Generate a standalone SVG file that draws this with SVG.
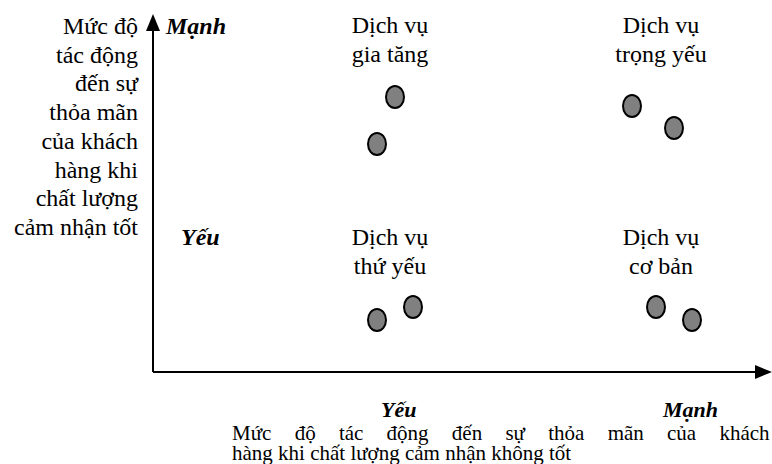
<svg xmlns="http://www.w3.org/2000/svg" width="772" height="464" viewBox="0 0 772 464">
<style>
text{font-family:'Liberation Serif','Times New Roman',serif;font-size:24px;fill:#000}
.c{text-anchor:middle}
.r{text-anchor:end}
.b{font-weight:bold;font-style:italic}
.s{font-size:21px}
.dot{fill:#808080;stroke:#000;stroke-width:2}
.ax{stroke:#000;stroke-width:2;fill:none}
</style>
<rect width="772" height="464" fill="#fff"/>
<g id="connectors">
<path class="ax" d="M153,372 L153,28"/>
<polygon points="153,14 146,31 160,31" fill="#000"/>
<path class="ax" d="M153,372 L756,372"/>
<polygon points="772,372 755,365 755,379" fill="#000"/>
</g>
<g id="y-axis-label">
<text class="r" x="138" y="34">Mức độ</text>
<text class="r" x="138" y="62.7">tác động</text>
<text class="r" x="138" y="91.4">đến sự</text>
<text class="r" x="138" y="120.1">thỏa mãn</text>
<text class="r" x="138" y="148.8">của khách</text>
<text class="r" x="138" y="177.5">hàng khi</text>
<text class="r" x="138" y="206.2">chất lượng</text>
<text class="r" x="138" y="235">cảm nhận tốt</text>
</g>
<g id="y-strong"><text class="b" x="166" y="34">Mạnh</text></g>
<g id="y-weak"><text class="b" x="181" y="245">Yếu</text></g>
<g id="x-weak"><text class="b" x="381" y="417" style="font-size:22px">Yếu</text></g>
<g id="x-strong"><text class="b" x="663" y="417" style="font-size:22px">Mạnh</text></g>
<g id="x-axis-label">
<text class="s" x="232" y="440" word-spacing="18">Mức độ tác động đến sự thỏa mãn của khách</text>
<text class="s" x="232" y="460">hàng khi chất lượng cảm nhận không tốt</text>
</g>
<g id="gia-tang">
<text class="c" x="390" y="33">Dịch vụ</text>
<text class="c" x="390" y="61.7">gia tăng</text>
<ellipse class="dot" cx="395" cy="97" rx="9" ry="11"/>
<ellipse class="dot" cx="377" cy="144" rx="9" ry="11"/>
</g>
<g id="trong-yeu">
<text class="c" x="661" y="33">Dịch vụ</text>
<text class="c" x="661" y="61.7">trọng yếu</text>
<ellipse class="dot" cx="632" cy="106" rx="9" ry="11"/>
<ellipse class="dot" cx="674" cy="128" rx="9" ry="11"/>
</g>
<g id="thu-yeu">
<text class="c" x="390" y="245">Dịch vụ</text>
<text class="c" x="390" y="273.7">thứ yếu</text>
<ellipse class="dot" cx="377" cy="320" rx="9" ry="11"/>
<ellipse class="dot" cx="413" cy="307" rx="9" ry="11"/>
</g>
<g id="co-ban">
<text class="c" x="661" y="245">Dịch vụ</text>
<text class="c" x="661" y="273.7">cơ bản</text>
<ellipse class="dot" cx="656" cy="307" rx="9" ry="11"/>
<ellipse class="dot" cx="692" cy="320" rx="9" ry="11"/>
</g>
</svg>
